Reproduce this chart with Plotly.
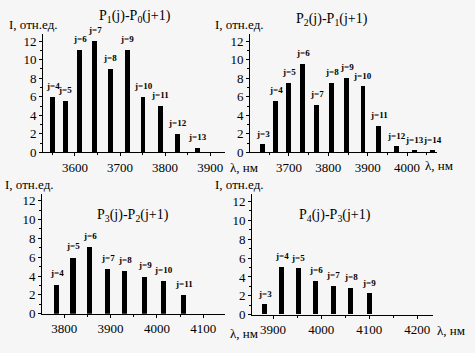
import plotly.graph_objects as go

# Panel 1: P1(j)-P0(j+1)
p1_j = [4, 5, 6, 7, 8, 9, 10, 11, 12, 13]
p1_x = [3551, 3578, 3611, 3644, 3678, 3716, 3751, 3789, 3827, 3871]
p1_y = [6.0, 5.5, 11.0, 12.0, 9.0, 11.0, 6.0, 5.0, 2.0, 0.5]

# Panel 2: P2(j)-P1(j+1)
p2_j = [3, 4, 5, 6, 7, 8, 9, 10, 11, 12, 13, 14]
p2_x = [3633, 3666, 3699, 3735, 3770, 3809, 3847, 3888, 3928, 3972, 4018, 4064]
p2_y = [0.85, 5.5, 7.5, 9.5, 5.1, 7.5, 8.0, 7.1, 2.85, 0.63, 0.2, 0.2]

# Panel 3: P3(j)-P2(j+1)
p3_j = [4, 5, 6, 7, 8, 9, 10, 11]
p3_x = [3784, 3819, 3855, 3894, 3931, 3974, 4015, 4058]
p3_y = [3.1, 6.0, 7.1, 4.75, 4.55, 4.0, 3.5, 2.0]

# Panel 4: P4(j)-P3(j+1)
p4_j = [3, 4, 5, 6, 7, 8, 9]
p4_x = [3883, 3918, 3952, 3989, 4025, 4062, 4100]
p4_y = [1.05, 5.05, 4.85, 3.57, 3.04, 2.83, 2.2]

titles = ["P<sub>1</sub>(j)-P<sub>0</sub>(j+1)", "P<sub>2</sub>(j)-P<sub>1</sub>(j+1)",
          "P<sub>3</sub>(j)-P<sub>2</sub>(j+1)", "P<sub>4</sub>(j)-P<sub>3</sub>(j+1)"]
xranges = [[3529, 3933], [3601, 4076], [3752, 4147], [3856, 4233]]
xtick_vals = [[3600, 3700, 3800, 3900], [3700, 3800, 3900, 4000],
              [3800, 3900, 4000, 4100], [3900, 4000, 4100, 4200]]
bar_widths = [11, 12.5, 11, 10.5]

W, H = 475, 353
# pixel boxes: (x0, x1, ytop, ybottom)
boxes = [(43, 225, 35, 156), (250, 437, 35, 156), (42, 225, 198, 321), (252, 433, 199, 322)]
title_pos = [(135, 17), (332, 20), (133, 220), (335, 220)]
ylab_pos = [(7, 25), (213, 25), (3, 189), (213, 189)]
xlab_pos = [(228, 171), (423, 169), (228, 341), (435, 338)]

FONT = "Liberation Serif"
fig = go.Figure()
data = [(p1_j, p1_x, p1_y), (p2_j, p2_x, p2_y), (p3_j, p3_x, p3_y), (p4_j, p4_x, p4_y)]
layout = {}
annotations = []
for i, (js, xs, ys) in enumerate(data):
    n = i + 1
    xa = "x" if n == 1 else f"x{n}"
    ya = "y" if n == 1 else f"y{n}"
    fig.add_trace(go.Bar(
        x=xs, y=ys, width=bar_widths[i], marker=dict(color="black", line=dict(width=0)),
        xaxis=xa, yaxis=ya, showlegend=False, hoverinfo="x+y"))
    for j, xv, yv in zip(js, xs, ys):
        annotations.append(dict(text=f"<b>j={j}</b>", x=xv, y=yv, xref=xa, yref=ya,
                                showarrow=False, xanchor="center", yanchor="bottom", yshift=4,
                                font=dict(family=FONT, size=9, color="black")))
    x0, x1, yt, yb = boxes[i]
    axkey_x = "xaxis" if n == 1 else f"xaxis{n}"
    axkey_y = "yaxis" if n == 1 else f"yaxis{n}"
    layout[axkey_x] = dict(domain=[x0 / W, x1 / W], range=xranges[i], anchor=ya,
                           tickvals=xtick_vals[i], showgrid=False, zeroline=False,
                           showline=True, linecolor="black", linewidth=1,
                           ticks="outside", ticklen=3, tickcolor="black",
                           tickfont=dict(family=FONT, size=13, color="black"),
                           minor=dict(dtick=50, tick0=0, ticks="outside", ticklen=2, tickcolor="black"))
    layout[axkey_y] = dict(domain=[1 - yb / H, 1 - yt / H], range=[0, 12.75], anchor=xa,
                           dtick=2, showgrid=False, zeroline=False,
                           showline=True, linecolor="black", linewidth=1,
                           ticks="outside", ticklen=3, tickcolor="black",
                           tickfont=dict(family=FONT, size=13, color="black"),
                           minor=dict(dtick=1, ticks="outside", ticklen=2, tickcolor="black"))
    tx, ty = title_pos[i]
    annotations.append(dict(text=titles[i], x=tx / W, y=1 - ty / H, xref="paper", yref="paper",
                            showarrow=False, xanchor="center", yanchor="middle",
                            font=dict(family=FONT, size=14, color="black")))
    lx, ly = ylab_pos[i]
    annotations.append(dict(text="I, отн.ед.", x=lx / W, y=1 - ly / H, xref="paper", yref="paper",
                            showarrow=False, xanchor="left", yanchor="middle",
                            font=dict(family=FONT, size=13, color="black")))
    qx, qy = xlab_pos[i]
    annotations.append(dict(text="λ, нм", x=qx / W, y=1 - qy / H, xref="paper", yref="paper",
                            showarrow=False, xanchor="left", yanchor="middle",
                            font=dict(family=FONT, size=13, color="black")))

fig.update_layout(width=W, height=H, margin=dict(l=0, r=0, t=0, b=0),
                  paper_bgcolor="#f6f6f6", plot_bgcolor="#f6f6f6",
                  bargap=0, annotations=annotations, **layout)
fig.write_html("out.html")
